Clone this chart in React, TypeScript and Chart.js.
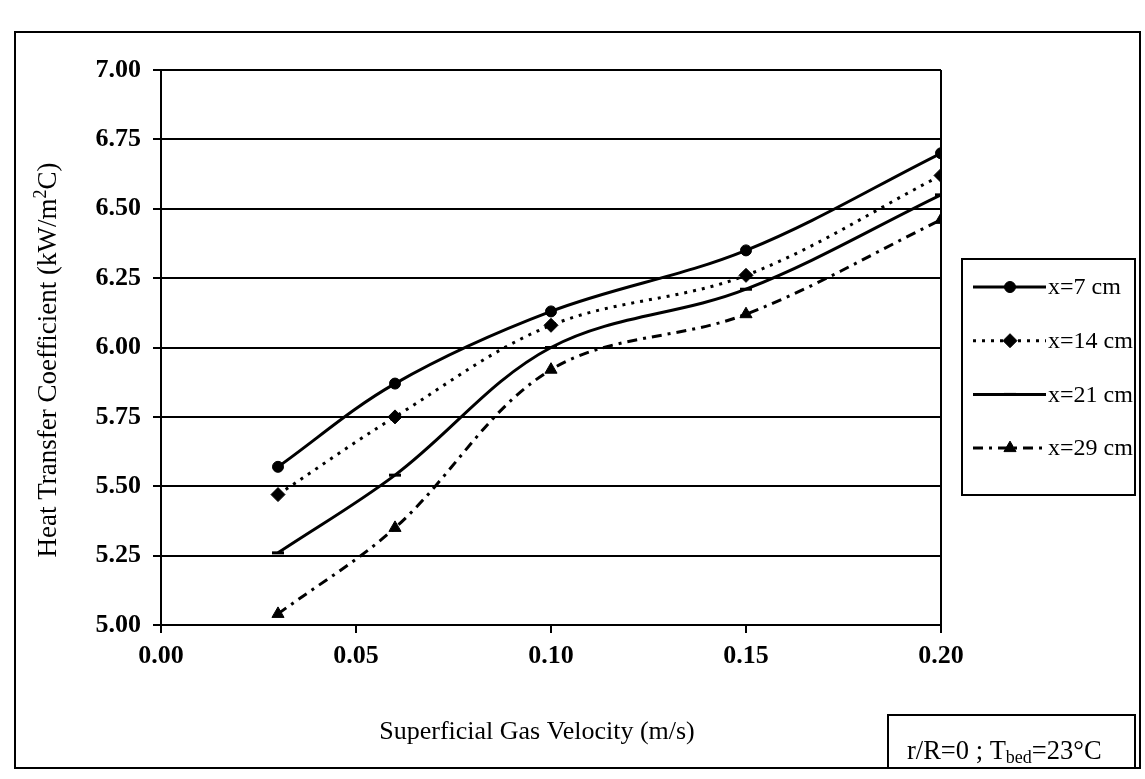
import React, { useEffect, useRef } from 'react';
import { Chart, registerables } from 'chart.js';
import { drawPoint } from 'chart.js/helpers';

Chart.register(...registerables);

// Superficial gas velocity (m/s) at which the probe was read
const velocities = [0.03, 0.06, 0.1, 0.15, 0.2];

// Heat transfer coefficient (kW/m²°C) for each axial probe position
const seriesNames = ['x=7 cm', 'x=14 cm', 'x=21 cm', 'x=29 cm'];
const htc7 = [5.57, 5.87, 6.13, 6.35, 6.7];
const htc14 = [5.47, 5.75, 6.08, 6.26, 6.62];
const htc21 = [5.26, 5.54, 6.0, 6.21, 6.55];
const htc29 = [5.04, 5.35, 5.92, 6.12, 6.46];

// Axis ranges and tick spacing
const xRange = [0, 0.2];
const xStep = 0.05;
const yRange = [5, 7];
const yStep = 0.25;

const xTitle = 'Superficial Gas Velocity (m/s)';
const yTitleParts = ['Heat Transfer Coefficient (kW/m', '2', 'C)'];
const noteParts = ['r/R=0 ; T', 'bed', '=23°C'];

const SERIF = '"Liberation Serif", "Times New Roman", Times, serif';

const points = (vals: number[]) => vals.map((v, i) => ({ x: velocities[i], y: v }));

// Frame, right plot edge, legend box, note box and axis titles
const decorations = {
  id: 'decorations',
  afterDraw(chart: any) {
    const ctx: CanvasRenderingContext2D = chart.ctx;
    const { right, top, bottom } = chart.chartArea;
    ctx.save();
    ctx.strokeStyle = '#000';
    ctx.fillStyle = '#000';
    ctx.lineWidth = 2;
    ctx.setLineDash([]);

    // outer frame of the chart
    ctx.strokeRect(15, 32, 1125, 736);

    // right border of the plot area
    ctx.beginPath();
    ctx.moveTo(right, top);
    ctx.lineTo(right, bottom);
    ctx.stroke();

    // legend
    ctx.strokeRect(962, 259, 173, 236);
    chart.data.datasets.forEach((ds: any, i: number) => {
      const y = 287 + i * 53.7;
      ctx.save();
      ctx.strokeStyle = '#000';
      ctx.lineWidth = ds.borderWidth;
      ctx.setLineDash(ds.borderDash || []);
      ctx.beginPath();
      ctx.moveTo(973, y);
      ctx.lineTo(1046, y);
      ctx.stroke();
      ctx.restore();

      ctx.save();
      ctx.fillStyle = '#000';
      ctx.strokeStyle = '#000';
      ctx.lineWidth = ds.pointBorderWidth;
      ctx.setLineDash([]);
      drawPoint(ctx, { pointStyle: ds.pointStyle, radius: ds.pointRadius, rotation: 0, borderWidth: ds.pointBorderWidth }, 1010, y);
      ctx.restore();

      ctx.font = `24px ${SERIF}`;
      ctx.textBaseline = 'middle';
      ctx.textAlign = 'left';
      ctx.fillText(ds.label, 1048, y + 1);
    });

    // note box with subscript
    ctx.strokeRect(888, 715, 247, 53);
    ctx.textBaseline = 'alphabetic';
    ctx.textAlign = 'left';
    let nx = 907;
    const ny = 759;
    ctx.font = `26.5px ${SERIF}`;
    ctx.fillText(noteParts[0], nx, ny);
    nx += ctx.measureText(noteParts[0]).width;
    ctx.font = `18px ${SERIF}`;
    ctx.fillText(noteParts[1], nx, ny + 4);
    nx += ctx.measureText(noteParts[1]).width;
    ctx.font = `26.5px ${SERIF}`;
    ctx.fillText(noteParts[2], nx, ny);

    // x axis title
    ctx.font = `26px ${SERIF}`;
    ctx.textAlign = 'center';
    ctx.textBaseline = 'middle';
    ctx.fillText(xTitle, 537, 732);

    // y axis title with superscript
    ctx.save();
    ctx.translate(47, 360);
    ctx.rotate(-Math.PI / 2);
    ctx.textAlign = 'left';
    ctx.textBaseline = 'alphabetic';
    const big = `27px ${SERIF}`;
    const small = `18px ${SERIF}`;
    ctx.font = big;
    const w0 = ctx.measureText(yTitleParts[0]).width;
    const w2 = ctx.measureText(yTitleParts[2]).width;
    ctx.font = small;
    const w1 = ctx.measureText(yTitleParts[1]).width;
    let tx = -(w0 + w1 + w2) / 2;
    const base = 9;
    ctx.font = big;
    ctx.fillText(yTitleParts[0], tx, base);
    tx += w0;
    ctx.font = small;
    ctx.fillText(yTitleParts[1], tx, base - 10);
    tx += w1;
    ctx.font = big;
    ctx.fillText(yTitleParts[2], tx, base);
    ctx.restore();

    ctx.restore();
  },
};

export default function App() {
  const canvasRef = useRef<HTMLCanvasElement | null>(null);

  useEffect(() => {
    if (!canvasRef.current) return;
    const chart = new Chart(canvasRef.current, {
      type: 'scatter',
      data: {
        datasets: [
          {
            label: seriesNames[0],
            data: points(htc7),
            showLine: true,
            borderColor: '#000',
            backgroundColor: '#000',
            borderWidth: 3,
            tension: 0.35,
            pointStyle: 'circle',
            pointRadius: 5.5,
            pointBorderWidth: 1,
            pointBackgroundColor: '#000',
            pointBorderColor: '#000',
          },
          {
            label: seriesNames[1],
            data: points(htc14),
            showLine: true,
            borderColor: '#000',
            backgroundColor: '#000',
            borderWidth: 3,
            borderDash: [3, 6],
            tension: 0.35,
            pointStyle: 'rectRot',
            pointRadius: 7,
            pointBorderWidth: 1,
            pointBackgroundColor: '#000',
            pointBorderColor: '#000',
          },
          {
            label: seriesNames[2],
            data: points(htc21),
            showLine: true,
            borderColor: '#000',
            backgroundColor: '#000',
            borderWidth: 3,
            tension: 0.35,
            pointStyle: 'line',
            pointRadius: 6,
            pointBorderWidth: 3,
            pointBackgroundColor: '#000',
            pointBorderColor: '#000',
          },
          {
            label: seriesNames[3],
            data: points(htc29),
            showLine: true,
            borderColor: '#000',
            backgroundColor: '#000',
            borderWidth: 3,
            borderDash: [10, 6, 3, 6],
            tension: 0.35,
            pointStyle: 'triangle',
            pointRadius: 7,
            pointBorderWidth: 1,
            pointBackgroundColor: '#000',
            pointBorderColor: '#000',
          },
        ],
      },
      options: {
        responsive: false,
        animation: false,
        layout: { padding: { left: 0, top: 70, right: 204, bottom: 0 } },
        plugins: { legend: { display: false }, tooltip: { enabled: false } },
        scales: {
          x: {
            type: 'linear',
            min: xRange[0],
            max: xRange[1],
            ticks: {
              stepSize: xStep,
              callback: (v: any) => Number(v).toFixed(2),
              font: { family: SERIF, size: 26, weight: 'bold' },
              color: '#000',
              padding: 8,
              maxRotation: 0,
            },
            grid: { drawOnChartArea: false, drawTicks: true, tickLength: 8, color: '#000', lineWidth: 2 },
            border: { display: true, color: '#000', width: 2 },
            afterFit: (s: any) => {
              s.height = 154;
            },
          },
          y: {
            type: 'linear',
            min: yRange[0],
            max: yRange[1],
            ticks: {
              stepSize: yStep,
              callback: (v: any) => Number(v).toFixed(2),
              font: { family: SERIF, size: 26, weight: 'bold' },
              color: '#000',
              padding: 12,
            },
            grid: { color: '#000', lineWidth: 2, drawTicks: true, tickLength: 8 },
            border: { display: true, color: '#000', width: 2 },
            afterFit: (s: any) => {
              s.width = 161;
            },
          },
        },
      },
      plugins: [decorations],
    });
    return () => chart.destroy();
  }, []);

  return (
    <div style={{ position: 'fixed', left: 0, top: 0, width: 1145, height: 779, background: '#fff' }}>
      <canvas ref={canvasRef} width={1145} height={779} style={{ display: 'block' }} />
    </div>
  );
}
